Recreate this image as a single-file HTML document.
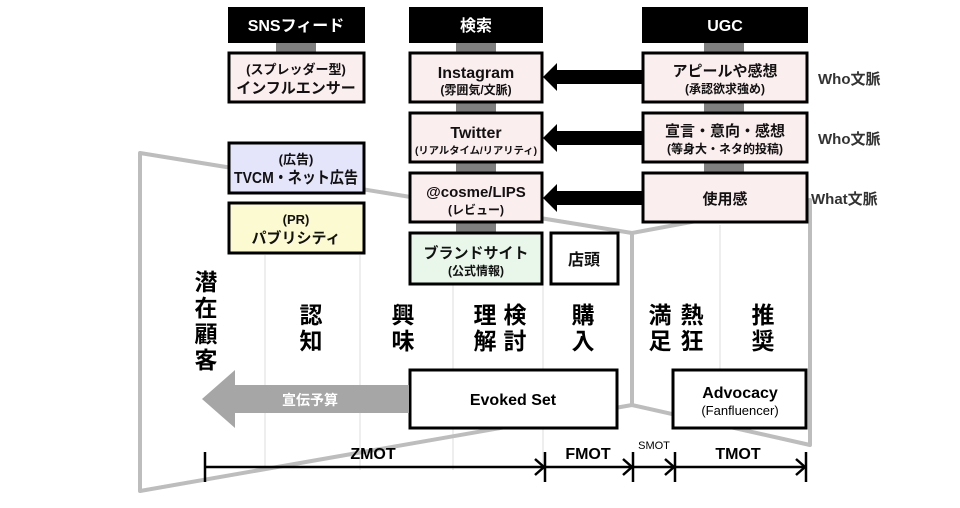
<!DOCTYPE html>
<html><head><meta charset="utf-8"><style>
body{margin:0;background:#fff;}
svg text{font-family:"Liberation Sans","Noto Sans CJK JP",sans-serif;font-weight:bold;}
svg text.n{font-weight:normal;}
</style></head><body>
<svg width="960" height="503" viewBox="0 0 960 503" xmlns="http://www.w3.org/2000/svg">
<g stroke="#ddd" stroke-width="1">
<line x1="265" y1="255" x2="265" y2="470"/><line x1="360" y1="255" x2="360" y2="470"/>
<line x1="453" y1="285" x2="453" y2="470"/><line x1="543" y1="285" x2="543" y2="470"/>
<line x1="720" y1="225" x2="720" y2="370"/>
</g>
<g stroke="#bdbdbd" stroke-width="4" fill="none" stroke-linejoin="round">
<polyline points="632,233 140,153 140,491 632,405"/>
<polygon points="632,233 810,200 810,445 632,405"/>
</g>
<g fill="#7f7f7f">
<rect x="276" y="42" width="40" height="10"/>
<rect x="456" y="42" width="40" height="10"/><rect x="456" y="102" width="40" height="10"/>
<rect x="456" y="162" width="40" height="10"/><rect x="456" y="222" width="40" height="10"/>
<rect x="704" y="42" width="40" height="10"/><rect x="704" y="102" width="40" height="10"/><rect x="704" y="162" width="40" height="10"/>
</g>
<g fill="#000"><rect x="228" y="7" width="137" height="36"/><rect x="409" y="7" width="134" height="36"/><rect x="642" y="7" width="166" height="36"/></g>
<g fill="#fff" font-size="16" text-anchor="middle"><text x="296" y="31">SNSフィード</text><text x="476" y="31">検索</text><text x="725" y="31">UGC</text></g>
<g stroke="#000" stroke-width="3">
<rect x="229" y="53" width="135" height="49" fill="#fbeeee"/>
<rect x="410" y="53" width="132" height="49" fill="#fbeeee"/>
<rect x="410" y="113" width="132" height="49" fill="#fbeeee"/>
<rect x="410" y="173" width="132" height="49" fill="#fbeeee"/>
<rect x="410" y="233" width="132" height="51" fill="#e8f7ea"/>
<rect x="551" y="233" width="67" height="51" fill="#fff"/>
<rect x="229" y="143" width="135" height="50" fill="#e4e4fa"/>
<rect x="229" y="203" width="135" height="50" fill="#fcfad0"/>
<rect x="643" y="53" width="164" height="49" fill="#fbeeee"/>
<rect x="643" y="113" width="164" height="49" fill="#fbeeee"/>
<rect x="643" y="173" width="164" height="49" fill="#fbeeee"/>
<rect x="410" y="370" width="207" height="58" fill="#fff"/>
<rect x="673" y="370" width="133" height="58" fill="#fff"/>
</g>
<g fill="#000">
<polygon points="642,70 557,70 557,63 543,77 557,91 557,84 642,84"/>
<polygon points="642,131 557,131 557,124 543,138 557,152 557,145 642,145"/>
<polygon points="642,191 557,191 557,184 543,198 557,212 557,205 642,205"/>
</g>
<g font-size="13" text-anchor="middle" fill="#111">
<text x="296" y="74">(スプレッダー型)</text><text x="296" y="93" font-size="15">インフルエンサー</text>
<text x="476" y="78" font-size="16">Instagram</text><text x="476" y="94" font-size="12">(雰囲気/文脈)</text>
<text x="476" y="138" font-size="16">Twitter</text><text x="476" y="154" font-size="10" textLength="122" lengthAdjust="spacingAndGlyphs">(リアルタイム/リアリティ)</text>
<text x="476" y="197" font-size="15">@cosme/LIPS</text><text x="476" y="214" font-size="12">(レビュー)</text>
<text x="476" y="258" font-size="15">ブランドサイト</text><text x="476" y="275" font-size="12">(公式情報)</text>
<text x="584" y="265" font-size="16">店頭</text>
<text x="296" y="164">(広告)</text><text x="296" y="183" font-size="16" textLength="124" lengthAdjust="spacingAndGlyphs">TVCM・ネット広告</text>
<text x="296" y="224">(PR)</text><text x="296" y="243" font-size="15">パブリシティ</text>
<text x="725" y="76" font-size="15">アピールや感想</text><text x="725" y="93" font-size="12">(承認欲求強め)</text>
<text x="725" y="136" font-size="15">宣言・意向・感想</text><text x="725" y="153" font-size="12">(等身大・ネタ的投稿)</text>
<text x="725" y="204" font-size="15">使用感</text>
</g>
<g font-size="15" fill="#333"><text x="818" y="84">Who文脈</text><text x="818" y="144">Who文脈</text><text x="811" y="204">What文脈</text></g>
<g font-size="23" text-anchor="middle" fill="#000">
<text x="206" y="290">潜</text><text x="206" y="316">在</text><text x="206" y="342">顧</text><text x="206" y="368">客</text>
<text x="311" y="323">認</text><text x="311" y="349">知</text>
<text x="403" y="323">興</text><text x="403" y="349">味</text>
<text x="485" y="323">理</text><text x="485" y="349">解</text>
<text x="515" y="323">検</text><text x="515" y="349">討</text>
<text x="583" y="323">購</text><text x="583" y="349">入</text>
<text x="660" y="323">満</text><text x="660" y="349">足</text>
<text x="692" y="323">熱</text><text x="692" y="349">狂</text>
<text x="763" y="323">推</text><text x="763" y="349">奨</text>
</g>
<polygon points="409,385 235,385 235,370 202,399 235,428 235,413 409,413" fill="#a6a6a6"/>
<text x="310" y="405" font-size="14" fill="#fff" text-anchor="middle">宣伝予算</text>
<g font-size="16" text-anchor="middle" fill="#000"><text x="513" y="405">Evoked Set</text><text x="740" y="398">Advocacy</text><text x="740" y="415" font-size="13" class="n">(Fanfluencer)</text></g>
<g stroke="#000" stroke-width="2.5" fill="none">
<line x1="205" y1="467" x2="805" y2="467"/>
<line x1="205" y1="452" x2="205" y2="482"/><line x1="545" y1="452" x2="545" y2="482"/>
<line x1="633" y1="452" x2="633" y2="482"/><line x1="675" y1="452" x2="675" y2="482"/><line x1="806" y1="452" x2="806" y2="482"/>
<polyline points="535,459 544,467 535,475"/><polyline points="623,459 632,467 623,475"/>
<polyline points="665,459 674,467 665,475"/><polyline points="796,459 805,467 796,475"/>
</g>
<g font-size="16" text-anchor="middle"><text x="373" y="459">ZMOT</text><text x="588" y="459">FMOT</text><text x="738" y="459">TMOT</text>
<text x="654" y="449" font-size="11" class="n">SMOT</text></g>
</svg>
</body></html>
